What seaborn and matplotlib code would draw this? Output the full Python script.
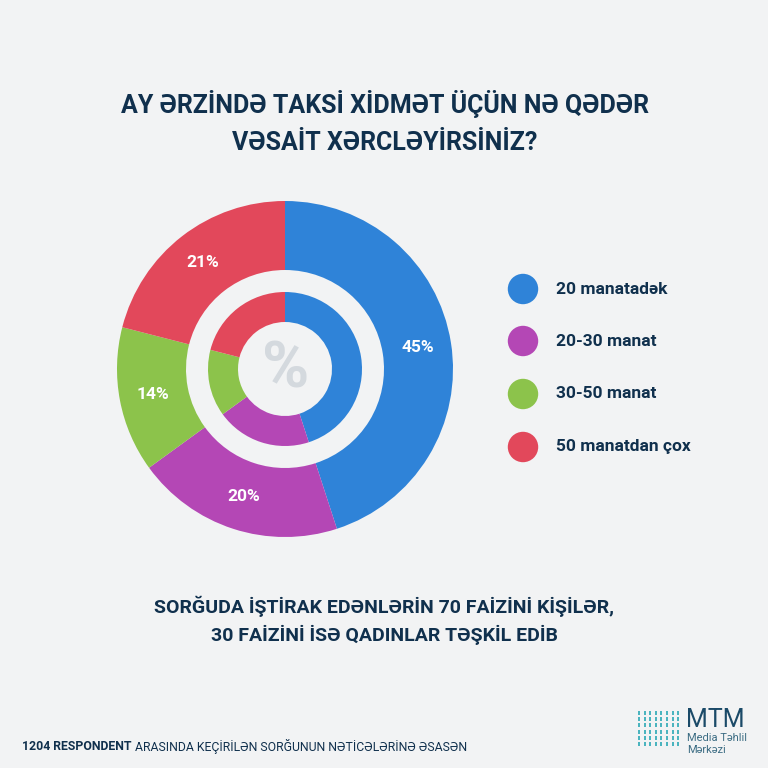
import numpy as np
import matplotlib
matplotlib.use("Agg")
import matplotlib.pyplot as plt
import seaborn as sns

# ---- data ----
categories = ["20 manatadək", "20-30 manat", "30-50 manat", "50 manatdan çox"]
values = [45, 20, 14, 21]
pct_labels = ["45%", "20%", "14%", "21%"]
title_lines = ["AY ƏRZİNDƏ TAKSİ XİDMƏT ÜÇÜN NƏ QƏDƏR", "VƏSAİT XƏRCLƏYİRSİNİZ?"]
subtitle_lines = ["SORĞUDA İŞTİRAK EDƏNLƏRİN 70 FAİZİNİ KİŞİLƏR,", "30 FAİZİNİ İSƏ QADINLAR TƏŞKİL EDİB"]
footer_bold = "1204 RESPONDENT"
footer_rest = " ARASINDA KEÇİRİLƏN SORĞUNUN NƏTİCƏLƏRİNƏ ƏSASƏN"

sns.set_theme(style="white")
plt.rcParams['font.family'] = ['Roboto', 'DejaVu Sans']

colors = sns.color_palette(["#2f83d8", "#b447b5", "#8cc34b", "#e2485b"])
navy = "#10304d"
bg = "#f2f3f4"

W = H = 768
fig = plt.figure(figsize=(7.68, 7.68), dpi=100, facecolor=bg)
ax = fig.add_axes([0, 0, 1, 1])
ax.set_facecolor(bg)

def Y(py):
    return H - py

cx, cy = 285, Y(369)
R_out = 168
w_out = 69
R_in = 77
w_in = 30

# outer ring
ax.pie(values, colors=colors, startangle=90, counterclock=False,
       radius=R_out, center=(cx, cy), frame=True,
       wedgeprops=dict(width=w_out, linewidth=0))
# percent labels on outer ring
cum = np.cumsum([0] + values[:-1])
for v, c0, lab in zip(values, cum, pct_labels):
    ang = np.deg2rad(90 - (c0 + v / 2) * 3.6)
    r = R_out * 0.8
    ax.text(cx + r * np.cos(ang), cy + r * np.sin(ang), lab, color="white",
            fontsize=12.5, fontweight="bold", ha="center", va="center")

# inner ring
ax.pie(values, colors=colors, startangle=90, counterclock=False,
       radius=R_in, center=(cx, cy), frame=True,
       wedgeprops=dict(width=w_in, linewidth=0))

ax.set_xlim(0, W)
ax.set_ylim(0, H)
ax.set_aspect('equal')
ax.axis('off')

# central %
ax.text(cx + 1, cy - 1, "%", color="#d4d9de", fontsize=46, fontweight="bold",
        ha="center", va="center")

# title
for yy, line in zip([104, 143], title_lines):
    ax.text(W / 2 + 1, Y(yy), line, color=navy, fontsize=18,
            fontweight="bold", ha="center", va="center")

# legend
leg_y = [289, 341, 394, 447]
for yy, col, cat in zip(leg_y, colors, categories):
    ax.scatter([523], [Y(yy)], s=480, color=col, edgecolor="none", zorder=3)
    ax.text(556, Y(yy), cat, color=navy, fontsize=12.5, fontweight="bold",
            ha="left", va="center")

# subtitle
for yy, line in zip([606, 635], subtitle_lines):
    ax.text(W / 2, Y(yy), line, color=navy, fontsize=14,
            fontweight="bold", ha="center", va="center")

# footer
t1 = ax.text(22, Y(746), footer_bold, color=navy, fontsize=8.8,
             fontweight="bold", ha="left", va="center")
fig.canvas.draw()
bb = t1.get_window_extent()
ax.text(bb.x1, Y(746), footer_rest, color=navy, fontsize=8.8,
        ha="left", va="center")

# logo
teal = "#2aa8b5"
gx, gy = np.meshgrid(np.arange(8) * 5.6 + 639, np.arange(6) * 6.2 + 713)
ax.scatter(gx.ravel(), Y(gy.ravel()), marker="|", s=10, color=teal, linewidths=1.2)
ax.text(686, Y(727), "MTM", color="#1b4a68", fontsize=18, ha="left", va="baseline")
ax.text(687, Y(741), "Media Təhlil", color="#3d6d84", fontsize=8, ha="left", va="baseline")
ax.text(687, Y(753), "Mərkəzi", color="#3d6d84", fontsize=8, ha="left", va="baseline")

fig.savefig("out.png", dpi=100, facecolor=bg)
